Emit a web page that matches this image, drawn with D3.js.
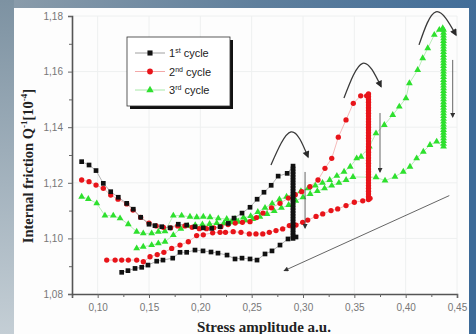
<!DOCTYPE html>
<html>
<head>
<meta charset="utf-8">
<script src="https://cdn.jsdelivr.net/npm/d3@7"></script>
<style>
  body { margin: 0; }
  svg { display: block; }
</style>
</head>
<body>
<svg id="chart" width="476" height="334"></svg>
<script>
// axis ticks
const xTicks = [0.10, 0.15, 0.20, 0.25, 0.30, 0.35, 0.40, 0.45];
const xMinor = [0.075, 0.125, 0.175, 0.225, 0.275, 0.325, 0.375, 0.425];
const yTicks = [1.08, 1.10, 1.12, 1.14, 1.16, 1.18];
const yMinor = [1.09, 1.11, 1.13, 1.15, 1.17];

const seriesNames = ["1st cycle", "2nd cycle", "3rd cycle"];

// 1st cycle: up branch, drop at 0.29, way back
const cycle1 = [
  [0.0844,1.1276],[0.0916,1.1264],[0.0984,1.1244],[0.1055,1.1198],[0.1127,1.1168],[0.1201,1.1148],
  [0.1283,1.1126],[0.1347,1.1105],[0.1419,1.1076],[0.150,1.1051],[0.1558,1.1046],[0.1624,1.1042],
  [0.1705,1.1038],[0.1785,1.1051],[0.1867,1.1048],[0.1948,1.1042],[0.2029,1.1038],[0.211,1.1036],
  [0.2192,1.1042],[0.2272,1.1054],[0.2328,1.1073],[0.2406,1.1091],[0.2484,1.1112],[0.2553,1.1141],
  [0.262,1.1166],[0.269,1.1191],[0.2758,1.1224],[0.2846,1.1234],
  [0.2903,1.126],[0.2903,1.125],[0.2903,1.124],[0.2903,1.123],[0.2903,1.122],[0.2903,1.121],
  [0.2903,1.120],[0.2903,1.119],[0.2903,1.118],[0.2903,1.117],[0.2903,1.116],[0.2903,1.115],
  [0.2903,1.114],[0.2903,1.113],[0.2903,1.112],[0.2903,1.111],[0.2903,1.110],[0.2903,1.109],
  [0.2903,1.108],[0.2903,1.107],[0.2903,1.106],[0.2903,1.105],[0.2903,1.104],[0.2903,1.103],
  [0.2903,1.102],[0.2903,1.101],[0.2903,1.100],
  [0.2932,1.1005],[0.2854,1.0998],[0.2776,1.0976],[0.2698,1.0955],[0.263,1.0944],[0.2552,1.0922],
  [0.2484,1.0926],[0.2406,1.0929],[0.2338,1.0926],[0.226,1.094],[0.2172,1.0947],[0.2104,1.0951],
  [0.2026,1.0955],[0.1948,1.0958],[0.1867,1.095],[0.1802,1.095],[0.1731,1.0929],[0.1636,1.0922],
  [0.1575,1.0918],[0.149,1.0904],[0.1429,1.0896],[0.1364,1.0892],[0.1295,1.0884],[0.1234,1.0878]
];

// 2nd cycle
const cycle2 = [
  [0.0844,1.121],[0.0916,1.1204],[0.0984,1.1192],[0.1055,1.118],[0.1127,1.1156],[0.1198,1.1141],
  [0.1283,1.1124],[0.1344,1.1102],[0.1419,1.1076],[0.150,1.1055],[0.157,1.1045],[0.164,1.104],
  [0.171,1.1038],[0.178,1.1045],[0.185,1.1045],[0.192,1.104],[0.199,1.1035],[0.206,1.1035],
  [0.213,1.1038],[0.220,1.1042],[0.227,1.105],[0.234,1.1055],[0.241,1.1058],[0.2484,1.106],
  [0.2547,1.1075],[0.261,1.1091],[0.2693,1.111],[0.2776,1.1126],[0.2858,1.1145],[0.2925,1.1157],
  [0.2987,1.1168],[0.3068,1.1186],[0.3146,1.121],[0.3214,1.1252],[0.328,1.1288],[0.3344,1.1364],
  [0.3419,1.1426],[0.349,1.1486],[0.3562,1.1513],[0.362,1.1513],
  [0.3638,1.152],[0.3638,1.151],[0.3638,1.150],[0.3638,1.149],[0.3638,1.148],[0.3638,1.147],
  [0.3638,1.146],[0.3638,1.145],[0.3638,1.144],[0.3638,1.143],[0.3638,1.142],[0.3638,1.141],
  [0.3638,1.140],[0.3638,1.139],[0.3638,1.138],[0.3638,1.137],[0.3638,1.136],[0.3638,1.135],
  [0.3638,1.134],[0.3638,1.133],[0.3638,1.132],[0.3638,1.131],[0.3638,1.130],[0.3638,1.129],
  [0.3638,1.128],[0.3638,1.127],[0.3638,1.126],[0.3638,1.125],[0.3638,1.124],[0.3638,1.123],
  [0.3638,1.122],[0.3638,1.121],[0.3638,1.120],[0.3638,1.119],[0.3638,1.118],[0.3638,1.117],
  [0.3638,1.116],[0.3638,1.115],[0.3638,1.114],
  [0.3653,1.1144],[0.3582,1.1135],[0.350,1.113],[0.3419,1.1118],[0.3338,1.1106],[0.3273,1.110],
  [0.3192,1.1088],[0.3127,1.1079],[0.3046,1.1066],[0.2997,1.1058],[0.2932,1.1048],[0.2867,1.1046],
  [0.2802,1.1034],[0.2737,1.1028],[0.2672,1.1022],[0.2608,1.1016],[0.2542,1.1016],[0.2477,1.1016],
  [0.2396,1.1022],[0.232,1.1024],[0.2245,1.1022],[0.2192,1.1022],[0.212,1.102],[0.2029,1.1013],
  [0.1964,1.101],[0.1883,1.0988],[0.1802,1.0976],[0.1721,1.0964],[0.1645,1.095],[0.158,1.0942],
  [0.151,1.0934],[0.1445,1.0916],[0.138,1.0922],[0.1299,1.0922],[0.1234,1.0922],[0.117,1.0922],
  [0.1088,1.0922]
];

// 3rd cycle
const cycle3 = [
  [0.0844,1.115],[0.0909,1.1142],[0.0991,1.1126],[0.1071,1.1082],[0.1152,1.1082],[0.1218,1.1072],
  [0.1298,1.1051],[0.138,1.1024],[0.1444,1.1018],[0.1526,1.1018],[0.1591,1.1024],[0.1656,1.1026],
  [0.1737,1.1082],[0.1818,1.1082],[0.1899,1.1078],[0.1965,1.1076],[0.2029,1.1078],[0.2094,1.1076],
  [0.2175,1.1072],[0.2257,1.107],[0.2338,1.107],[0.242,1.1075],[0.249,1.108],[0.256,1.1095],
  [0.263,1.111],[0.270,1.1125],[0.277,1.114],[0.284,1.115],[0.291,1.116],[0.298,1.117],
  [0.305,1.118],[0.312,1.119],[0.319,1.120],[0.326,1.121],[0.333,1.1225],[0.340,1.124],
  [0.346,1.1258],[0.3523,1.1288],[0.3565,1.1294],[0.3646,1.133],[0.3711,1.1378],[0.3792,1.1408],
  [0.3874,1.1444],[0.3938,1.1474],[0.4003,1.1504],[0.4036,1.1558],[0.4117,1.1606],[0.4166,1.1648],
  [0.4215,1.1684],[0.4279,1.1732],[0.4328,1.175],[0.4361,1.1756],
  [0.4369,1.175],[0.4369,1.174],[0.4369,1.173],[0.4369,1.172],[0.4369,1.171],[0.4369,1.170],
  [0.4369,1.169],[0.4369,1.168],[0.4369,1.167],[0.4369,1.166],[0.4369,1.165],[0.4369,1.164],
  [0.4369,1.163],[0.4369,1.162],[0.4369,1.161],[0.4369,1.160],[0.4369,1.159],[0.4369,1.158],
  [0.4369,1.157],[0.4369,1.156],[0.4369,1.155],[0.4369,1.154],[0.4369,1.153],[0.4369,1.152],
  [0.4369,1.151],[0.4369,1.150],[0.4369,1.149],[0.4369,1.148],[0.4369,1.147],[0.4369,1.146],
  [0.4369,1.145],[0.4369,1.144],[0.4369,1.143],[0.4369,1.142],[0.4369,1.141],[0.4369,1.140],
  [0.4369,1.139],[0.4369,1.138],[0.4369,1.137],[0.4369,1.136],[0.4369,1.135],[0.4369,1.134],
  [0.4369,1.133],
  [0.4302,1.1348],[0.4237,1.1336],[0.4172,1.1312],[0.4107,1.1288],[0.4042,1.1258],[0.3977,1.124],
  [0.3896,1.1222],[0.3799,1.1208],[0.3711,1.122],[0.3487,1.1221],[0.342,1.121],[0.335,1.120],
  [0.328,1.119],[0.321,1.118],[0.314,1.117],[0.307,1.116],[0.300,1.1148],[0.293,1.1135],
  [0.286,1.112],[0.279,1.111],[0.272,1.1098],[0.265,1.1088],[0.258,1.1078],[0.251,1.107],
  [0.244,1.1065],[0.237,1.106],[0.230,1.1058],[0.223,1.1055],[0.216,1.1055],[0.209,1.1052],
  [0.202,1.105],[0.195,1.1048],[0.188,1.1045],[0.181,1.1035],[0.1737,1.1012],[0.1656,1.0988],
  [0.1591,1.0982],[0.1526,1.0976],[0.1444,1.097],[0.138,1.0964]
];

// hand drawn arrows (data units)
const arcArrows = [
  [[0.2688,1.1264],[0.2883,1.1383],[0.3049,1.1293]],
  [[0.3399,1.1505],[0.3581,1.1630],[0.3760,1.1546]],
  [[0.4130,1.1696],[0.4295,1.1815],[0.4490,1.1732]]
];
const straightArrows = [
  [[0.302,1.1239],[0.302,1.1037]],
  [[0.375,1.1451],[0.375,1.1239]],
  [[0.4458,1.1642],[0.4458,1.1437]],
  [[0.4425,1.1154],[0.2818,1.0884]]
];

const svg = d3.select("#chart");
const W = 476, H = 334;

// background
const defs = svg.append("defs");
const bg = defs.append("linearGradient").attr("id", "bg")
  .attr("x1", 0).attr("y1", 0).attr("x2", 1).attr("y2", 0.3);
bg.append("stop").attr("offset", 0).attr("stop-color", "#8c9dab");
bg.append("stop").attr("offset", 0.5).attr("stop-color", "#5f7f9c");
bg.append("stop").attr("offset", 1).attr("stop-color", "#3c6a98");
const lg = defs.append("linearGradient").attr("id", "leftbg")
  .attr("x1", 0).attr("y1", 0).attr("x2", 0).attr("y2", 1);
lg.append("stop").attr("offset", 0).attr("stop-color", "#7d92a2");
lg.append("stop").attr("offset", 1).attr("stop-color", "#c4ced5");

svg.append("rect").attr("width", W).attr("height", H).attr("fill", "url(#bg)");
svg.append("rect").attr("width", 14).attr("height", H).attr("fill", "url(#leftbg)");
svg.append("rect").attr("x", 14).attr("y", 8).attr("width", 455).attr("height", H - 8).attr("fill", "#fdfdfd");

defs.append("marker").attr("id", "head")
  .attr("viewBox", "0 0 10 10").attr("refX", 8).attr("refY", 5)
  .attr("markerWidth", 9).attr("markerHeight", 7).attr("markerUnits", "userSpaceOnUse")
  .attr("orient", "auto")
  .append("path").attr("d", "M0,0L10,5L0,10Z").attr("fill", "#2a2a2a");
defs.append("marker").attr("id", "headThin")
  .attr("viewBox", "0 0 10 10").attr("refX", 8).attr("refY", 5)
  .attr("markerWidth", 7).attr("markerHeight", 5).attr("markerUnits", "userSpaceOnUse")
  .attr("orient", "auto")
  .append("path").attr("d", "M0,0L10,5L0,10Z").attr("fill", "#333");

const x = d3.scaleLinear().domain([0.075, 0.45]).range([72, 457]);
const y = d3.scaleLinear().domain([1.08, 1.18]).range([294, 16]);
const fmt = d => d3.format(".2f")(d).replace(".", ",");

// faint grid
svg.append("g").selectAll("line").data(xTicks).join("line")
  .attr("x1", d => x(d)).attr("x2", d => x(d)).attr("y1", y(1.18)).attr("y2", y(1.08))
  .attr("stroke", "#eef0f0").attr("stroke-width", 1);
svg.append("g").selectAll("line").data(yTicks.slice(1)).join("line")
  .attr("x1", x(0.075)).attr("x2", x(0.45)).attr("y1", d => y(d)).attr("y2", d => y(d))
  .attr("stroke", "#eef0f0").attr("stroke-width", 1);

// axes
svg.append("g").attr("transform", "translate(0,294)")
  .call(d3.axisBottom(x).tickValues(xTicks).tickFormat(fmt).tickSize(4).tickPadding(6));
svg.append("g").attr("transform", "translate(0,294)")
  .call(d3.axisBottom(x).tickValues(xMinor).tickFormat("").tickSize(3))
  .call(g => g.select(".domain").remove());
svg.append("g").attr("transform", "translate(72,0)")
  .call(d3.axisLeft(y).tickValues(yTicks).tickFormat(fmt).tickSize(4).tickPadding(5));
svg.append("g").attr("transform", "translate(72,0)")
  .call(d3.axisLeft(y).tickValues(yMinor).tickFormat("").tickSize(3))
  .call(g => g.select(".domain").remove());

svg.selectAll(".domain").attr("stroke", "#555").attr("stroke-width", 1.6);
svg.selectAll(".tick line").attr("stroke", "#666");
svg.selectAll(".tick text").attr("fill", "#777").attr("font-size", 10)
  .attr("font-family", "Liberation Sans, Arial, sans-serif");

// axis titles
svg.append("text").attr("x", 264).attr("y", 332).attr("text-anchor", "middle")
  .attr("font-family", "Liberation Serif, Times New Roman, serif").attr("font-weight", "bold")
  .attr("font-size", 15).attr("fill", "#222").text("Stress amplitude a.u.");
const yt = svg.append("text").attr("transform", "translate(33,166) rotate(-90)")
  .attr("text-anchor", "middle")
  .attr("font-family", "Liberation Serif, Times New Roman, serif").attr("font-weight", "bold")
  .attr("font-size", 14.5).attr("fill", "#222");
yt.append("tspan").text("Internal friction Q");
yt.append("tspan").attr("font-size", 9).attr("dy", -6).text("-1");
yt.append("tspan").attr("dy", 6).text("[10");
yt.append("tspan").attr("font-size", 9).attr("dy", -6).text("-4");
yt.append("tspan").attr("dy", 6).text("]");

// series
const series = [
  { name: seriesNames[0], data: cycle1, color: "#111", line: "#a0a0a0", shape: d3.symbolSquare, size: 22 },
  { name: seriesNames[1], data: cycle2, color: "#e8141a", line: "#f3a8a8", shape: d3.symbolCircle, size: 22 },
  { name: seriesNames[2], data: cycle3, color: "#2ee02e", line: "#a8e8a8", shape: d3.symbolTriangle, size: 20 }
];
const line = d3.line().x(d => x(d[0])).y(d => y(d[1]));
const drawOrder = [series[2], series[1], series[0]];

drawOrder.forEach(s => {
  svg.append("path").datum(s.data).attr("d", line)
    .attr("fill", "none").attr("stroke", s.line).attr("stroke-width", 0.8);
});
drawOrder.forEach(s => {
  svg.append("g").selectAll("path").data(s.data).join("path")
    .attr("transform", d => `translate(${x(d[0])},${y(d[1])})`)
    .attr("d", d3.symbol().type(s.shape).size(s.size))
    .attr("fill", s.color);
});

// arrows
const arc = d3.line().x(d => x(d[0])).y(d => y(d[1])).curve(d3.curveNatural);
svg.append("g").selectAll("path").data(arcArrows).join("path")
  .attr("d", arc).attr("fill", "none").attr("stroke", "#3a3a3a").attr("stroke-width", 1.3)
  .attr("marker-end", "url(#head)");
svg.append("g").selectAll("path").data(straightArrows).join("path")
  .attr("d", line).attr("fill", "none").attr("stroke", "#555").attr("stroke-width", 0.9)
  .attr("marker-end", "url(#headThin)");

// legend
const leg = svg.append("g").attr("transform", "translate(127,37)");
leg.append("rect").attr("x", 3).attr("y", 3).attr("width", 103).attr("height", 69).attr("fill", "#111");
leg.append("rect").attr("width", 103).attr("height", 69).attr("fill", "#fff")
  .attr("stroke", "#333").attr("stroke-width", 0.8);
const sup = ["st", "nd", "rd"];
series.forEach((s, i) => {
  const row = leg.append("g").attr("transform", `translate(0,${16 + i * 18.5})`);
  row.append("line").attr("x1", 8).attr("x2", 38).attr("stroke", s.line).attr("stroke-width", 1);
  row.append("path").attr("transform", "translate(23,0)")
    .attr("d", d3.symbol().type(s.shape).size(s.size + 4)).attr("fill", s.color);
  const t = row.append("text").attr("x", 42).attr("y", 4)
    .attr("font-family", "Liberation Sans, Arial, sans-serif").attr("font-size", 11).attr("fill", "#222");
  t.append("tspan").text(s.name.charAt(0));
  t.append("tspan").attr("font-size", 7).attr("dy", -4).text(sup[i]);
  t.append("tspan").attr("dy", 4).text(" cycle");
});
</script>
</body>
</html>
